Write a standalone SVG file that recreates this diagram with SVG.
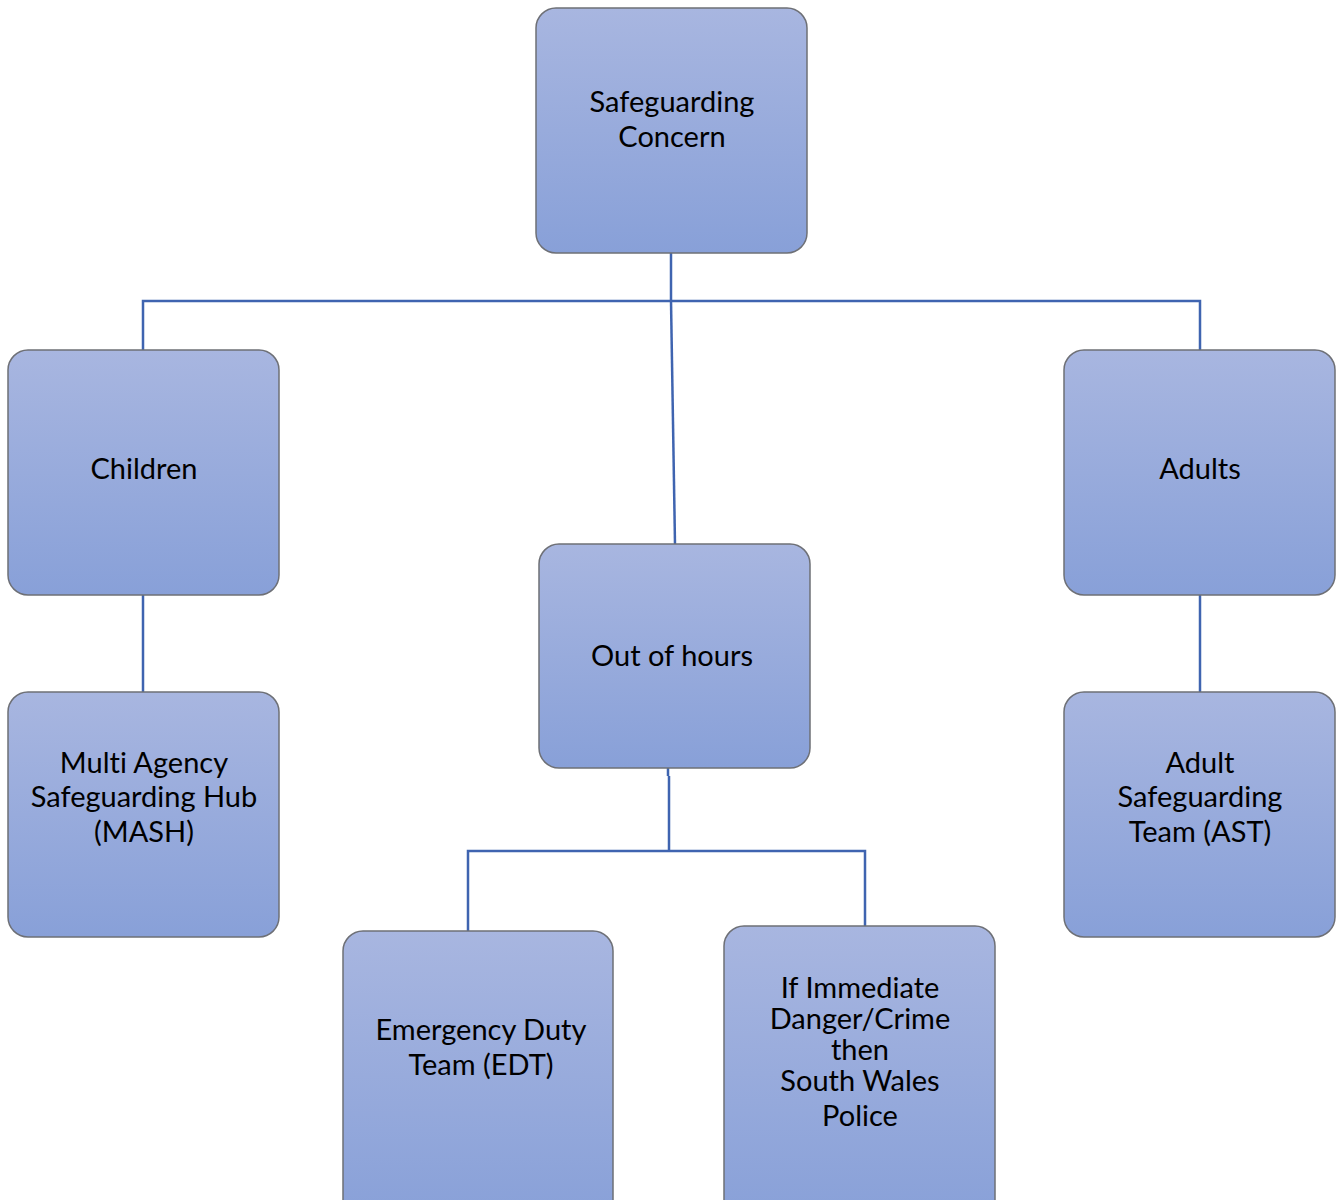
<svg xmlns="http://www.w3.org/2000/svg" width="1340" height="1200" viewBox="0 0 1340 1200">
<defs>
<linearGradient id="g" x1="0" y1="0" x2="0" y2="1">
<stop offset="0" stop-color="#A8B6E0"/>
<stop offset="1" stop-color="#88A0D8"/>
</linearGradient>
<style>
.box{fill:url(#g);stroke:#6E7076;stroke-width:1.5}
.t{font-family:Lato,"Liberation Sans",sans-serif;font-size:29px;fill:#000;text-anchor:middle;font-variant-ligatures:none;font-feature-settings:"liga" 0}
.c{fill:none;stroke:#3F64B0;stroke-width:2.5}
</style>
</defs>
<rect width="1340" height="1200" fill="#fff"/>
<g id="connectors">
<path class="c" d="M671 253 V301"/>
<path class="c" d="M143 350 V301 H1200 V350"/>
<path class="c" d="M671 301 L675 544"/>
<path class="c" d="M143 595 V692"/>
<path class="c" d="M1200 595 V692"/>
<path class="c" d="M668 768 V776 M669 776 V851"/>
<path class="c" d="M468 931 V851 H865 V926"/>
</g>
<g id="safeguarding-concern">
<rect class="box" x="536" y="8" width="271" height="245" rx="20"/>
<text class="t" x="672" y="112">Safeguarding</text>
<text class="t" x="672" y="147">Concern</text>
</g>
<g id="children">
<rect class="box" x="8" y="350" width="271" height="245" rx="20"/>
<text class="t" x="144" y="479">Children</text>
</g>
<g id="adults">
<rect class="box" x="1064" y="350" width="271" height="245" rx="20"/>
<text class="t" x="1200" y="479">Adults</text>
</g>
<g id="out-of-hours">
<rect class="box" x="539" y="544" width="271" height="224" rx="20"/>
<text class="t" x="672" y="666">Out of hours</text>
</g>
<g id="mash">
<rect class="box" x="8" y="692" width="271" height="245" rx="20"/>
<text class="t" x="144" y="773">Multi Agency</text>
<text class="t" x="144" y="807">Safeguarding Hub</text>
<text class="t" x="144" y="842">(MASH)</text>
</g>
<g id="ast">
<rect class="box" x="1064" y="692" width="271" height="245" rx="20"/>
<text class="t" x="1200" y="773">Adult</text>
<text class="t" x="1200" y="807">Safeguarding</text>
<text class="t" x="1200" y="842">Team (AST)</text>
</g>
<g id="edt">
<rect class="box" x="343" y="931" width="270" height="290" rx="20"/>
<text class="t" x="481" y="1040">Emergency Duty</text>
<text class="t" x="481" y="1075">Team (EDT)</text>
</g>
<g id="police">
<rect class="box" x="724" y="926" width="271" height="295" rx="20"/>
<text class="t" x="860" y="998">If Immediate</text>
<text class="t" x="860" y="1029">Danger/Crime</text>
<text class="t" x="860" y="1060">then</text>
<text class="t" x="860" y="1091">South Wales</text>
<text class="t" x="860" y="1126">Police</text>
</g>
</svg>
